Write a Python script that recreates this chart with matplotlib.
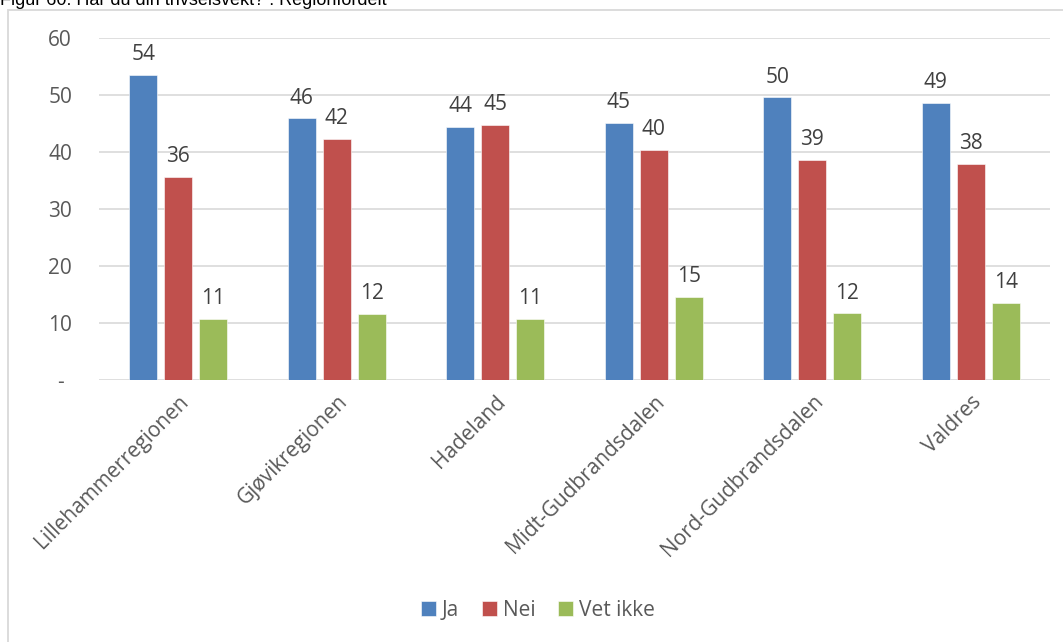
import numpy as np
import matplotlib.pyplot as plt
from matplotlib.patches import Rectangle

# Data
regions = ["Lillehammerregionen", "Gjøvikregionen", "Hadeland",
           "Midt-Gudbrandsdalen", "Nord-Gudbrandsdalen", "Valdres"]
ja       = [53.5, 45.9, 44.4, 45.1, 49.6, 48.6]
nei      = [35.6, 42.3, 44.8, 40.4, 38.6, 37.9]
vet_ikke = [10.7, 11.6, 10.7, 14.6, 11.7, 13.5]
series_names = ["Ja", "Nei", "Vet ikke"]
y_ticks = [0, 10, 20, 30, 40, 50, 60]
y_tick_labels = ["-", "10", "20", "30", "40", "50", "60"]

colors = ["#4f81bd", "#c0504d", "#9bbb59"]
txt = "#595959"
grid_c = "#d9d9d9"
FONT = "Open Sans"
FS = 15

W, H = 1063, 642
fig = plt.figure(figsize=(W / 100, H / 100), dpi=100)

# outer chart border (light grey frame)
fig.patches.append(Rectangle((8 / W, -0.01), 1.2, 1 - 9.5 / H + 0.01,
                             transform=fig.transFigure, fill=False,
                             edgecolor=grid_c, linewidth=1.3))

# title, clipped at the top edge as in the source
fig.text(0.0, 1 - 5 / H, "Figur 60: Har du din trivselsvekt? : Regionfordelt",
         family="Liberation Sans", fontsize=13, color="black",
         ha="left", va="baseline")

ax = fig.add_axes([99 / W, (H - 380) / H, (1050 - 99) / W, (380 - 38) / H])

x = np.arange(len(regions))
bw, step = 0.177, 0.221
for i, (vals, clr, name) in enumerate(zip([ja, nei, vet_ikke], colors, series_names)):
    xs = x + (i - 1) * step
    ax.bar(xs, vals, width=bw, color=clr, label=name, zorder=3,
           edgecolor="white", linewidth=0.4)
    for xi, v in zip(xs, vals):
        ax.annotate(f"{v:.0f}", (xi, v), xytext=(0, 7), textcoords="offset points",
                    ha="center", va="bottom", family=FONT, fontsize=FS, color="#404040")

ax.set_xlim(-0.5, len(regions) - 0.5)
ax.set_ylim(0, 60)
ax.set_yticks(y_ticks)
ax.set_yticklabels(y_tick_labels, family=FONT, fontsize=FS, color=txt)
ax.set_xticks(x)
ax.set_xticklabels(regions, family=FONT, fontsize=FS, color=txt,
                   rotation=45, ha="right", va="top", rotation_mode="anchor")
ax.tick_params(axis="both", length=0)
ax.tick_params(axis="y", pad=28)
ax.tick_params(axis="x", pad=8)
for lab in ax.get_yticklabels():
    lab.set_horizontalalignment("center")
ax.grid(axis="y", color=grid_c, linewidth=1.2, zorder=0)
for s in ax.spines.values():
    s.set_visible(False)

leg = fig.legend(loc="center", bbox_to_anchor=(538 / W, 1 - 610 / H), ncol=3,
                 frameon=False, handlelength=0.7, handleheight=0.7,
                 handletextpad=0.3, columnspacing=1.1,
                 prop={"family": FONT, "size": FS})
for t in leg.get_texts():
    t.set_color(txt)

fig.savefig("out.png", dpi=100)
